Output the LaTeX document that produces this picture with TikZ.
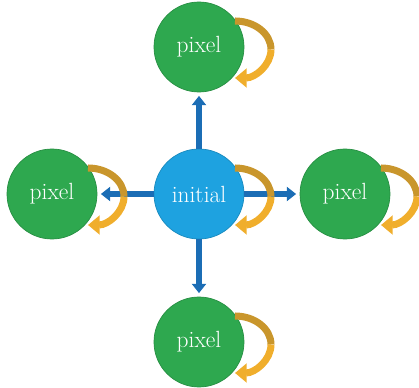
\documentclass[tikz,border=0pt]{standalone}
\usetikzlibrary{arrows.meta}

\definecolor{ballgreen}{HTML}{2EA84F}
\definecolor{ballblue}{HTML}{1EA2E0}
\definecolor{linkblue}{HTML}{1B6DB5}
\definecolor{loopdark}{HTML}{C9962C}
\definecolor{looplight}{HTML}{F0AE2C}

\begin{document}
\begin{tikzpicture}[x=0.03cm,y=0.03cm,
    ball/.style={circle, minimum size=2.7cm, inner sep=0pt, fill=ballgreen,
                 draw=ballgreen!85!black, line width=0.6pt, text=white,
                 font=\fontsize{20}{22}\selectfont},
    link/.style={linkblue, line width=5pt, -{Triangle[width=12pt,length=8pt]},
                 shorten >=3pt},
    loopback/.style={looplight, line width=6pt,
                 -{Triangle[width=16pt,length=10pt]}}]

\useasboundingbox (0,0) rectangle (419,387);

% circles
\node[ball, fill=ballblue, draw=ballblue!85!black] (initial) at (199,193) {initial};
\node[ball] (top) at (199,340) {pixel};
\node[ball] (left) at (52,193) {pixel};
\node[ball] (right) at (345,193) {pixel};
\node[ball] (bottom) at (199,45) {pixel};

% blue arrows
\draw[link] (initial) -- (top);
\draw[link] (initial) -- (left);
\draw[link] (initial) -- (right);
\draw[link] (initial) -- (bottom);

% self loops
\foreach \n in {initial,top,left,right,bottom} {
  \draw[loopdark, line width=6pt] ([shift={(36,26)}]\n.center)
      arc[start angle=90, end angle=0, x radius=36, y radius=28.5];
  \draw[loopback] ([shift={(72,-2.5)}]\n.center)
      arc[start angle=0, end angle=-90, x radius=36, y radius=28.5];
}

\end{tikzpicture}
\end{document}
